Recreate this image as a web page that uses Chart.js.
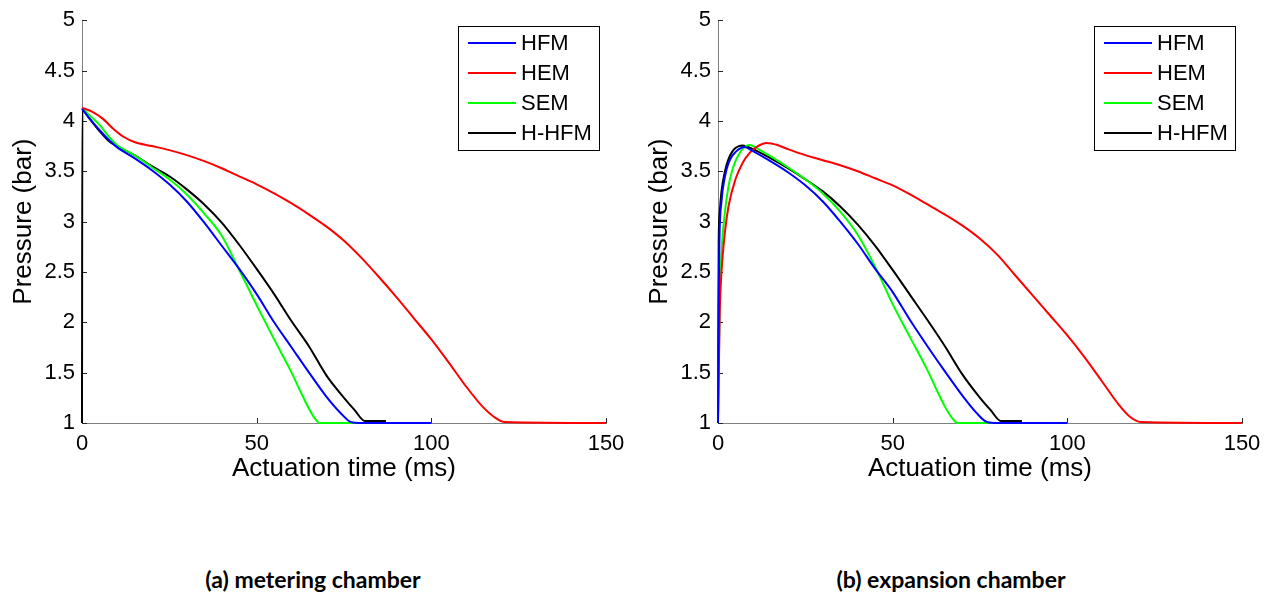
<!DOCTYPE html>
<html>
<head>
<meta charset="utf-8">
<script src="https://cdn.jsdelivr.net/npm/chart.js@4.4.1/dist/chart.umd.min.js"></script>
<style>
  html, body { margin: 0; padding: 0; background: #fff; }
  #wrap { position: relative; width: 1274px; height: 597px; overflow: hidden; }
  .panel { position: absolute; top: 0; width: 636px; height: 500px; }
  .caption { position: absolute; top: 568px; font: bold 23px Lato, "Noto Sans", sans-serif; line-height: 23px; white-space: nowrap; transform: translateX(-50%); color: #000; }
</style>
</head>
<body>
<div id="wrap">
  <div class="panel" style="left:0"><canvas id="chartA"></canvas></div>
  <div class="panel" style="left:636px"><canvas id="chartB"></canvas></div>
  <div class="caption" style="left:313px">(a) metering chamber</div>
  <div class="caption" style="left:951px">(b) expansion chamber</div>
</div>
<script>
// series / legend
const seriesNames = ['HFM', 'HEM', 'SEM', 'H-HFM'];
const seriesColors = ['#0000ff', '#ff0000', '#00ff00', '#000000'];

// axis ticks
const xTicks = [0, 50, 100, 150];
const yTicks = [1, 1.5, 2, 2.5, 3, 3.5, 4, 4.5, 5];
const yTickLabels = ['1', '1.5', '2', '2.5', '3', '3.5', '4', '4.5', '5'];

// (a) metering chamber
const aHfmT = [0, 2, 5, 8, 10, 15, 20, 25, 30, 35, 40, 45, 50, 55, 60, 65, 70, 74, 77, 80, 100];
const aHfmP = [4.12, 4.03, 3.91, 3.80, 3.74, 3.63, 3.51, 3.37, 3.20, 2.99, 2.76, 2.53, 2.28, 2.00, 1.75, 1.50, 1.26, 1.10, 1.01, 1.0, 1.0];
const aHemT = [0, 3, 6, 9, 12, 15, 20, 25, 30, 35, 40, 45, 50, 55, 60, 65, 70, 75, 80, 85, 90, 95, 100, 105, 110, 115, 118, 121, 150];
const aHemP = [4.13, 4.09, 4.02, 3.92, 3.84, 3.79, 3.75, 3.71, 3.66, 3.60, 3.53, 3.45, 3.37, 3.28, 3.18, 3.07, 2.95, 2.81, 2.64, 2.45, 2.25, 2.04, 1.83, 1.60, 1.36, 1.15, 1.06, 1.01, 1.0];
const aSemT = [0, 2, 5, 8, 10, 15, 20, 25, 30, 35, 40, 45, 50, 55, 60, 63, 65, 67, 68, 100];
const aSemP = [4.13, 4.06, 3.96, 3.83, 3.76, 3.66, 3.54, 3.42, 3.27, 3.08, 2.86, 2.52, 2.17, 1.83, 1.50, 1.28, 1.14, 1.03, 1.0, 1.0];
const aHhfmT = [0, 0.1, 2, 5, 8, 10, 15, 20, 25, 30, 35, 40, 45, 50, 55, 60, 65, 70, 75, 78, 81, 87];
const aHhfmP = [1.0, 4.12, 4.03, 3.90, 3.79, 3.75, 3.66, 3.55, 3.45, 3.32, 3.17, 2.99, 2.77, 2.53, 2.28, 2.01, 1.76, 1.47, 1.25, 1.13, 1.02, 1.02];

// (b) expansion chamber
const bHfmT = [0, 0.3, 1, 2, 3, 4, 5, 6, 7.5, 10, 15, 20, 25, 30, 35, 40, 45, 50, 55, 60, 65, 70, 74, 77, 80, 100];
const bHfmP = [1.0, 2.6, 3.2, 3.45, 3.58, 3.65, 3.69, 3.72, 3.74, 3.70, 3.60, 3.49, 3.36, 3.20, 3.00, 2.78, 2.53, 2.30, 2.02, 1.76, 1.51, 1.27, 1.10, 1.01, 1.0, 1.0];
const bHemT = [0, 0.5, 1, 2, 3, 5, 7, 9, 11, 14, 17, 20, 25, 30, 35, 40, 45, 50, 55, 60, 65, 70, 75, 80, 85, 90, 95, 100, 105, 110, 115, 118, 121, 150];
const bHemP = [1.0, 2.1, 2.5, 2.9, 3.15, 3.42, 3.58, 3.68, 3.74, 3.78, 3.76, 3.72, 3.66, 3.61, 3.56, 3.50, 3.43, 3.36, 3.27, 3.17, 3.07, 2.96, 2.83, 2.67, 2.47, 2.27, 2.07, 1.87, 1.65, 1.41, 1.17, 1.06, 1.01, 1.0];
const bSemT = [0, 0.5, 1, 2, 3, 4, 5, 6, 7, 9, 12, 15, 20, 25, 30, 35, 40, 45, 50, 55, 60, 63, 65, 67, 68.5, 100];
const bSemP = [1.0, 2.2, 2.7, 3.1, 3.35, 3.5, 3.6, 3.67, 3.72, 3.76, 3.71, 3.65, 3.54, 3.42, 3.28, 3.10, 2.87, 2.55, 2.18, 1.85, 1.52, 1.30, 1.16, 1.05, 1.0, 1.0];
const bHhfmT = [0, 0.2, 0.5, 1, 2, 3, 4, 5, 6, 7, 10, 15, 20, 25, 30, 35, 40, 45, 50, 55, 60, 65, 70, 75, 78, 81, 87];
const bHhfmP = [1.0, 2.8, 3.1, 3.3, 3.5, 3.62, 3.69, 3.73, 3.75, 3.755, 3.72, 3.63, 3.53, 3.42, 3.30, 3.15, 2.97, 2.76, 2.52, 2.27, 2.02, 1.76, 1.48, 1.25, 1.13, 1.02, 1.02];

const FONT = '"Liberation Sans", Arial, sans-serif';

function toPoints(t, p) {
    return t.map((x, i) => ({ x: x, y: p[i] }));
}

// inward ticks + boxed legend, MATLAB style
const matlabAxes = {
    id: 'matlabAxes',
    beforeDatasetsDraw(chart) {
        const { ctx, chartArea: a, scales: { x, y } } = chart;
        ctx.save();
        ctx.strokeStyle = '#262626';
        ctx.lineWidth = 1;
        ctx.beginPath();
        xTicks.forEach(v => {
            const px = Math.round(x.getPixelForValue(v)) + 0.5;
            ctx.moveTo(px, a.bottom);
            ctx.lineTo(px, a.bottom - 5);
        });
        yTicks.forEach(v => {
            const py = Math.round(y.getPixelForValue(v)) + 0.5;
            ctx.moveTo(a.left, py);
            ctx.lineTo(a.left + 5, py);
        });
        ctx.stroke();
        ctx.restore();
    },
    afterDraw(chart) {
        const ctx = chart.ctx;
        const bx = 458, by = 26, bw = 141, bh = 124;
        ctx.save();
        ctx.fillStyle = '#fff';
        ctx.fillRect(bx, by, bw, bh);
        ctx.strokeStyle = '#000';
        ctx.lineWidth = 1;
        ctx.strokeRect(bx + 0.5, by + 0.5, bw, bh);
        ctx.font = '22px ' + FONT;
        ctx.textBaseline = 'middle';
        chart.data.datasets.forEach((ds, i) => {
            const cy = by + 17 + i * 30;
            ctx.strokeStyle = ds.borderColor;
            ctx.lineWidth = 2;
            ctx.beginPath();
            ctx.moveTo(bx + 10, cy);
            ctx.lineTo(bx + 58, cy);
            ctx.stroke();
            ctx.fillStyle = '#000';
            ctx.fillText(ds.label, bx + 63, cy + 1);
        });
        ctx.restore();
    }
};

function makeChart(id, series) {
    new Chart(document.getElementById(id), {
        type: 'line',
        data: {
            datasets: series.map((s, i) => ({
                label: seriesNames[i],
                data: toPoints(s[0], s[1]),
                borderColor: seriesColors[i],
                borderWidth: 2,
                pointRadius: 0,
                fill: false,
                clip: 4,
                cubicInterpolationMode: 'monotone'
            }))
        },
        options: {
            responsive: true,
            maintainAspectRatio: false,
            animation: false,
            layout: { padding: { left: 0, right: 30, top: 18, bottom: 16 } },
            plugins: { legend: { display: false }, tooltip: { enabled: false } },
            scales: {
                x: {
                    type: 'linear',
                    min: 0, max: 150,
                    afterBuildTicks: s => { s.ticks = xTicks.map(v => ({ value: v })); },
                    afterFit: s => { s.height = 61; },
                    grid: { display: false, drawTicks: false },
                    border: { display: true, color: '#808080', width: 1 },
                    ticks: { color: '#000', padding: 8, maxRotation: 0, font: { family: FONT, size: 22 } },
                    title: { display: true, text: 'Actuation time (ms)', color: '#000', padding: 0, font: { family: FONT, size: 26 } }
                },
                y: {
                    type: 'linear',
                    min: 1, max: 5,
                    afterBuildTicks: s => { s.ticks = yTicks.map(v => ({ value: v })); },
                    afterFit: s => { s.width = 82; },
                    grid: { display: false, drawTicks: false },
                    border: { display: true, color: '#808080', width: 1 },
                    ticks: {
                        color: '#000', padding: 7, font: { family: FONT, size: 22 },
                        callback: v => yTickLabels[yTicks.indexOf(v)]
                    },
                    title: { display: true, text: 'Pressure (bar)', color: '#000', padding: { top: 8, bottom: 0 }, font: { family: FONT, size: 26 } }
                }
            }
        },
        plugins: [matlabAxes]
    });
}

makeChart('chartA', [[aHfmT, aHfmP], [aHemT, aHemP], [aSemT, aSemP], [aHhfmT, aHhfmP]]);
makeChart('chartB', [[bHfmT, bHfmP], [bHemT, bHemP], [bSemT, bSemP], [bHhfmT, bHhfmP]]);
</script>
</body>
</html>
